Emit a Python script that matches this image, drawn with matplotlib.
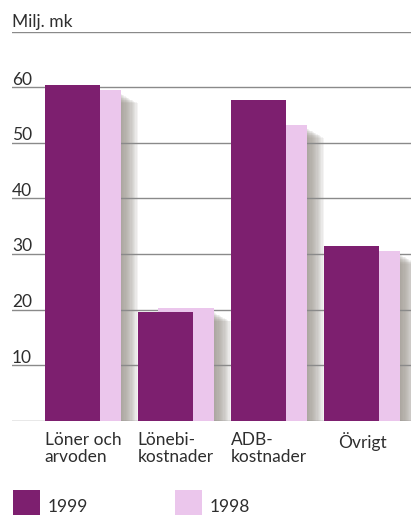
import numpy as np
import matplotlib
matplotlib.use('Agg')
import matplotlib.pyplot as plt
from matplotlib.patches import Rectangle

# values (Milj. mk)
categories = ['Löner och\narvoden', 'Lönebi-\nkostnader', 'ADB-\nkostnader', 'Övrigt']
vals_1999 = [60.4, 19.6, 57.7, 31.4]
vals_1998 = [59.5, 20.2, 53.3, 30.6]
yticks = [10, 20, 30, 40, 50, 60]
series_names = ['1999', '1998']

C99 = '#7d1f6f'
C98 = '#ebc6ec'
GRID = '#8a8a8a'
TXT = '#2e2e2e'

plt.rcParams['font.family'] = ['Lato', 'DejaVu Sans']

W, H = 411, 516
fig = plt.figure(figsize=(W / 100, H / 100), dpi=100)
fig.patch.set_facecolor('white')

# axes box in pixels: x 12..411, y(0)=420.7, y(70)=31.7
ax = fig.add_axes([12 / W, (H - 420.7) / H, 399 / W, (420.7 - 31.7) / H])
ax.set_xlim(-0.355, 3.935)
ax.set_ylim(0, 70)
ax.axis('off')

px_x = 1 / 93.0      # one pixel in x data units
px_y = 70 / 389.0    # one pixel in y data units

x = np.arange(len(categories))
bw = 0.595       # bar width
off98 = 0.22     # 1998 bar shifted right behind 1999 bar

# soft grey shadow: stacked translucent bars, each a bit wider and lower
n = 14
for k in range(n):
    f = k / (n - 1)
    right = x + off98 + bw + (1 + 16 * f) * px_x
    left = x + off98 + bw - 10 * px_x
    top = np.array(vals_1998) - (4 + 9 * f) * px_y
    ax.bar(left, top, width=right - left, align='edge', color='#9a928a',
           alpha=0.10, linewidth=0, zorder=1)

# gridlines (over shadow, under bars)
for v in [0] + yticks + [70]:
    ax.axhline(v, color=GRID, lw=1.0, zorder=2)

ax.bar(x + off98, vals_1998, width=bw, align='edge', color=C98,
       linewidth=0, zorder=3)
ax.bar(x, vals_1999, width=bw, align='edge', color=C99,
       linewidth=0, zorder=4)

# y tick labels sit on top of their gridlines
for v in yticks:
    ax.text(-0.355, v + 0.45, str(v), ha='left', va='baseline',
            fontsize=12.5, color=TXT)
ax.text(-0.355, 70 + 0.8, 'Milj. mk', ha='left', va='baseline',
        fontsize=12.5, color=TXT)

# category labels, centred under each pair, left-aligned lines
for i, lab in enumerate(categories):
    ax.text(x[i] + (bw + off98) / 2, -2.1, lab, ha='center', va='top',
            multialignment='left', linespacing=1.05, fontsize=12.5,
            color=TXT)

# legend at bottom
for (px, col, name) in [(13, C99, series_names[0]), (175, C98, series_names[1])]:
    fig.add_artist(Rectangle((px / W, (H - 515) / H), 27 / W, 25 / H,
                             transform=fig.transFigure, color=col, lw=0))
    fig.text((px + 35) / W, (H - 511.5) / H, name, ha='left', va='baseline',
             fontsize=12.5, color=TXT)

fig.savefig('out.png', dpi=100)
